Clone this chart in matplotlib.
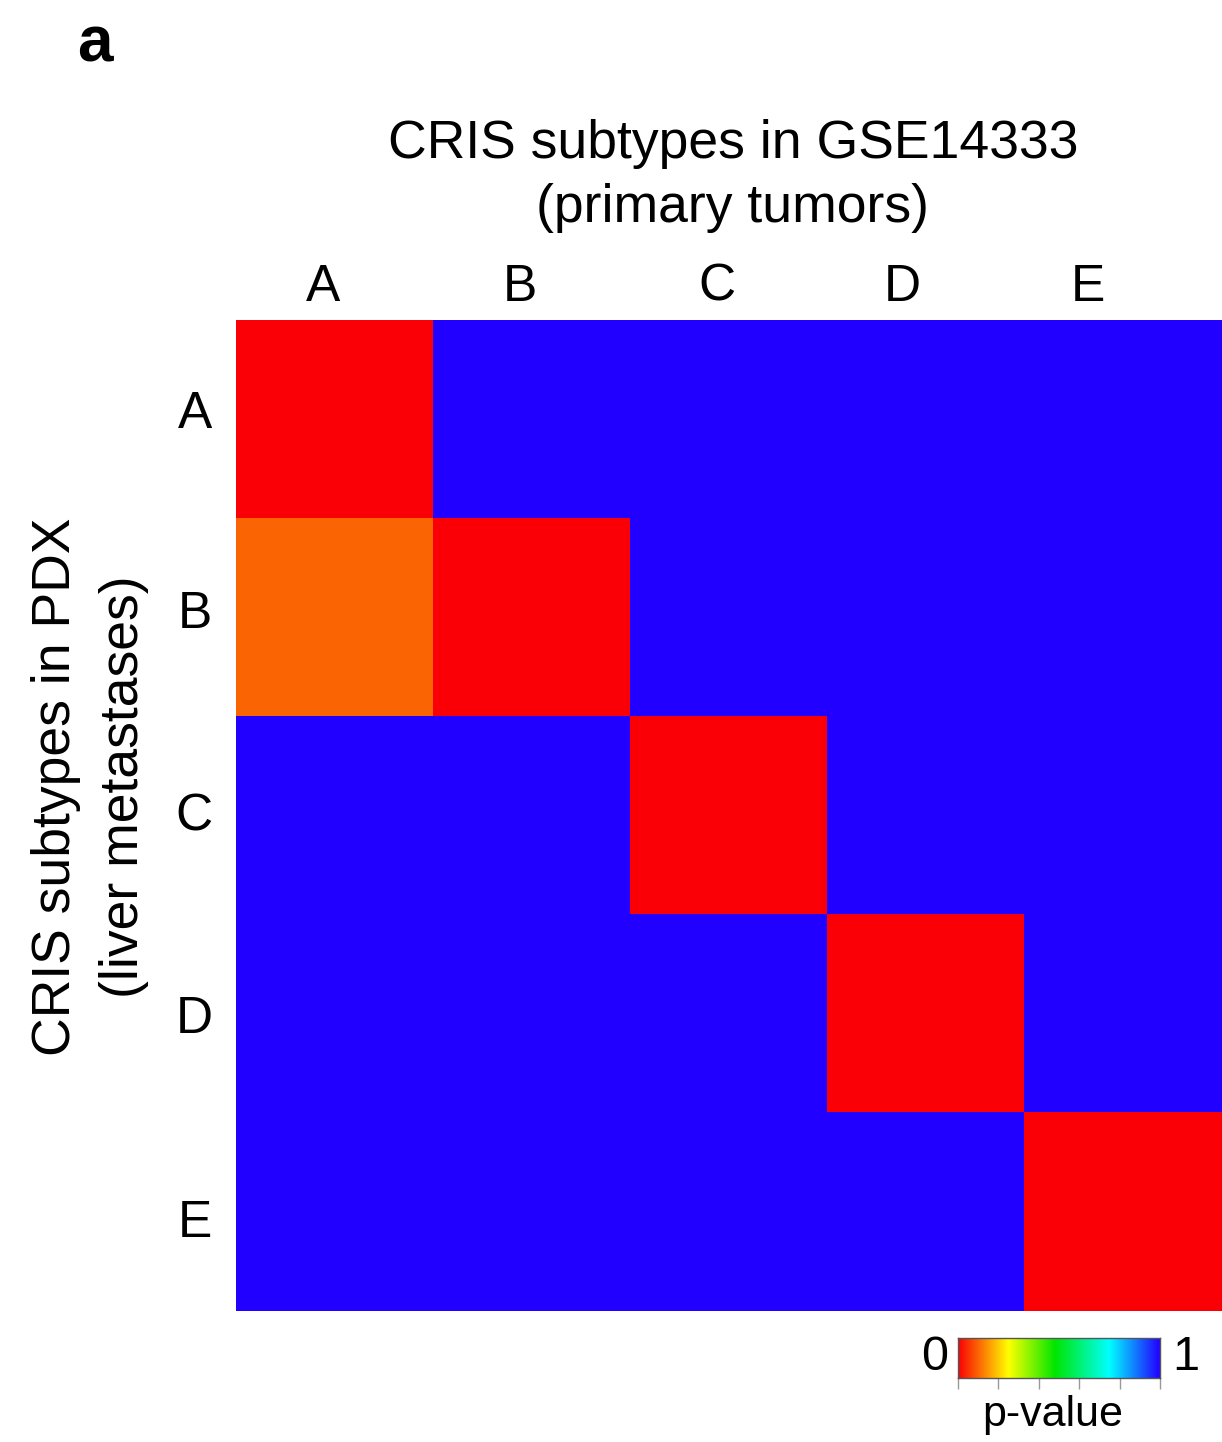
import matplotlib.pyplot as plt
import numpy as np
from matplotlib.colors import LinearSegmentedColormap

plt.rcParams['font.family'] = ['Liberation Sans', 'DejaVu Sans']

# p-values: rows = PDX subtypes, columns = GSE14333 subtypes
row_labels = ['A', 'B', 'C', 'D', 'E']
col_labels = ['A', 'B', 'C', 'D', 'E']
pvals = np.array([
    [0.0, 1.0, 1.0, 1.0, 1.0],
    [0.1, 0.0, 1.0, 1.0, 1.0],
    [1.0, 1.0, 0.0, 1.0, 1.0],
    [1.0, 1.0, 1.0, 0.0, 1.0],
    [1.0, 1.0, 1.0, 1.0, 0.0],
])

cmap = LinearSegmentedColormap.from_list('pv', [
    (0.0, '#fa0006'), (0.25, '#ffff00'), (0.48, '#00e600'),
    (0.75, '#00ffff'), (1.0, '#2200ff')])

fig = plt.figure(figsize=(12.22, 14.42), dpi=100)
ax = fig.add_axes([236/1222, 131/1442, 986/1222, 991/1442])
ax.imshow(pvals, cmap=cmap, vmin=0, vmax=1, aspect='auto', interpolation='nearest')

# labels sit a bit off the cell centres in the original
xlab_pos = [-0.06, 0.94, 1.94, 2.88, 3.82]
ylab_pos = [-0.05, 0.96, 1.98, 3.0, 4.03]
ax.set_xticks(xlab_pos)
ax.set_xticklabels(col_labels, fontsize=37)
ax.xaxis.tick_top()
ax.set_yticks(ylab_pos)
ax.set_yticklabels(row_labels, fontsize=37)
ax.tick_params(axis='x', length=0, pad=6)
ax.tick_params(axis='y', length=0, pad=17)
ax.set_ylim(4.5, -0.5)
for s in ax.spines.values():
    s.set_visible(False)

fig.text(733/1222, 1 - 176/1442, 'CRIS subtypes in GSE14333\n(primary tumors)',
         ha='center', va='center', fontsize=38.5, linespacing=1.35)
fig.text(90/1222, 1 - 787/1442, 'CRIS subtypes in PDX\n(liver metastases)',
         ha='center', va='center', fontsize=38.5, rotation=90, linespacing=1.45)
fig.text(95/1222, 1 - 45/1442, 'a', ha='center', va='center',
         fontsize=46, fontweight='bold')

# colour bar
cax = fig.add_axes([958/1222, 1 - 1378/1442, 202/1222, 40/1442])
grad = np.linspace(0, 1, 256).reshape(1, -1)
cax.imshow(grad, cmap=cmap, aspect='auto', extent=[0, 1, 0, 1])
cax.set_yticks([])
cax.set_xticks(np.linspace(0, 1, 6))
cax.set_xticklabels([])
cax.tick_params(axis='x', length=8, color='#999999', width=1)
for s in cax.spines.values():
    s.set_color('#555555')
    s.set_linewidth(1)
fig.text(935/1222, 1 - 1358/1442, '0', ha='center', va='center', fontsize=35)
fig.text(1186/1222, 1 - 1358/1442, '1', ha='center', va='center', fontsize=35)
fig.text(1053/1222, 1 - 1415/1442, 'p-value', ha='center', va='center', fontsize=31)

fig.savefig('out.png', dpi=100)
